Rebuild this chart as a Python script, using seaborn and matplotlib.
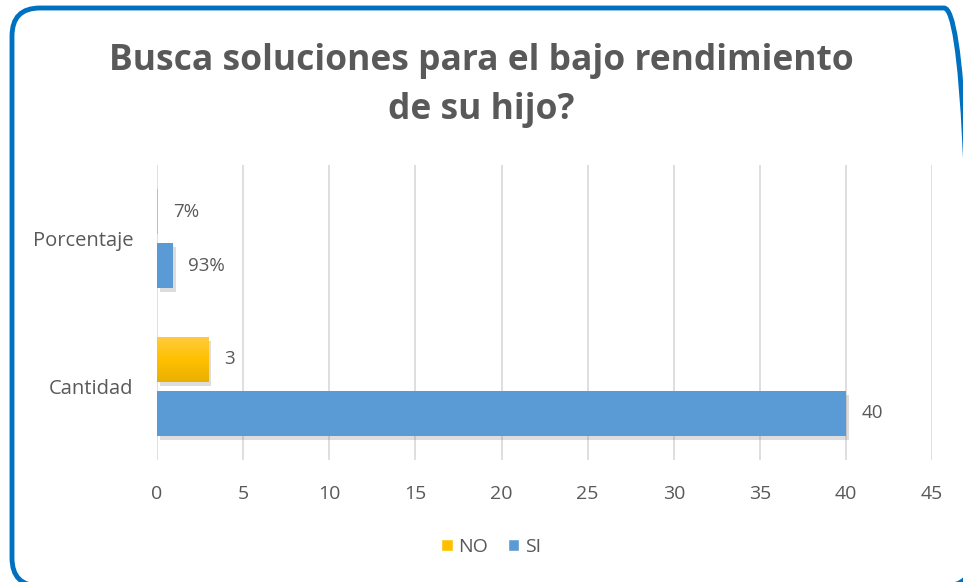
import numpy as np
import pandas as pd
import matplotlib.pyplot as plt
import seaborn as sns
from matplotlib.patches import FancyBboxPatch, Patch
from matplotlib.transforms import IdentityTransform
from matplotlib.colors import LinearSegmentedColormap
import matplotlib.patheffects as pe

categories = ['Porcentaje', 'Cantidad']
no_values = [0.07, 3]
si_values = [0.93, 40]
no_labels = ['7%', '3']
si_labels = ['93%', '40']
series = ['NO', 'SI']
colors = ['#FFC000', '#5B9BD5']
x_ticks = list(range(0, 50, 5))

df = pd.DataFrame({
    'categoria': categories * 2,
    'respuesta': ['NO'] * len(categories) + ['SI'] * len(categories),
    'valor': no_values + si_values,
})

sns.set_theme(style='white')
plt.rcParams['font.family'] = ['Open Sans', 'DejaVu Sans']
txt = '#595959'

fig = plt.figure(figsize=(9.63, 5.82), dpi=100)
ax = fig.add_axes([0.163, 0.2096, 0.805, 0.507])

sns.barplot(data=df, y='categoria', x='valor', hue='respuesta', order=categories,
            hue_order=series, palette=colors, orient='h', width=0.73, gap=0.17,
            saturation=1, legend=False, ax=ax)

shadow = [pe.SimplePatchShadow(offset=(2, -3), alpha=0.22, shadow_rgbFace='#666666'), pe.Normal()]
for cont in ax.containers:
    for bar in cont:
        bar.set_edgecolor('none')
        if bar.get_width() > 0.5:
            bar.set_path_effects(shadow)

# soft gradient on the yellow bars (lighter top, darker bottom)
ymap = LinearSegmentedColormap.from_list('amarillo', ['#E9B000', '#FFC000', '#FFCB3D'])
grad = np.linspace(0, 1, 100).reshape(-1, 1)
for bar in ax.containers[0]:
    if bar.get_width() > 0.5:
        x0, y0 = bar.get_x(), bar.get_y()
        im = ax.imshow(grad, cmap=ymap, aspect='auto', zorder=bar.get_zorder() + 0.1,
                       extent=(x0, x0 + bar.get_width(), y0, y0 + bar.get_height()))
        im.set_clip_path(bar)

ax.bar_label(ax.containers[0], labels=no_labels, padding=11, fontsize=13.5, color=txt)
ax.bar_label(ax.containers[1], labels=si_labels, padding=11, fontsize=13.5, color=txt)

ax.set_xlim(0, 45)
ax.set_ylim(1.5, -0.5)
ax.set_xticks(x_ticks)
ax.grid(axis='x', color='#D9D9D9', linewidth=1.2)
ax.set_axisbelow(True)
for s in ax.spines.values():
    s.set_visible(False)
ax.tick_params(axis='x', length=0, pad=18, labelsize=14, labelcolor=txt)
ax.tick_params(axis='y', length=0, pad=17, labelsize=14.5, labelcolor=txt)
ax.set_xlabel('')
ax.set_ylabel('')

fig.text(0.5, 0.853, 'Busca soluciones para el bajo rendimiento\nde su hijo?', ha='center', va='center',
         fontsize=25.5, fontweight='bold', color=txt, linespacing=1.5)

handles = [Patch(facecolor=c, label=s) for s, c in zip(series, colors)]
fig.legend(handles=handles, loc='center', bbox_to_anchor=(0.51, 0.06), ncol=2, frameon=False,
           fontsize=14, handlelength=0.6, handleheight=0.6, handletextpad=0.3, columnspacing=1.0,
           labelcolor=txt)

frame = FancyBboxPatch((12, -4), 960, 578, boxstyle='round,pad=0,rounding_size=28',
                       transform=IdentityTransform(), facecolor='none', edgecolor='#0070C0',
                       linewidth=3.5)
fig.patches.append(frame)

fig.savefig('out.png', dpi=100)
